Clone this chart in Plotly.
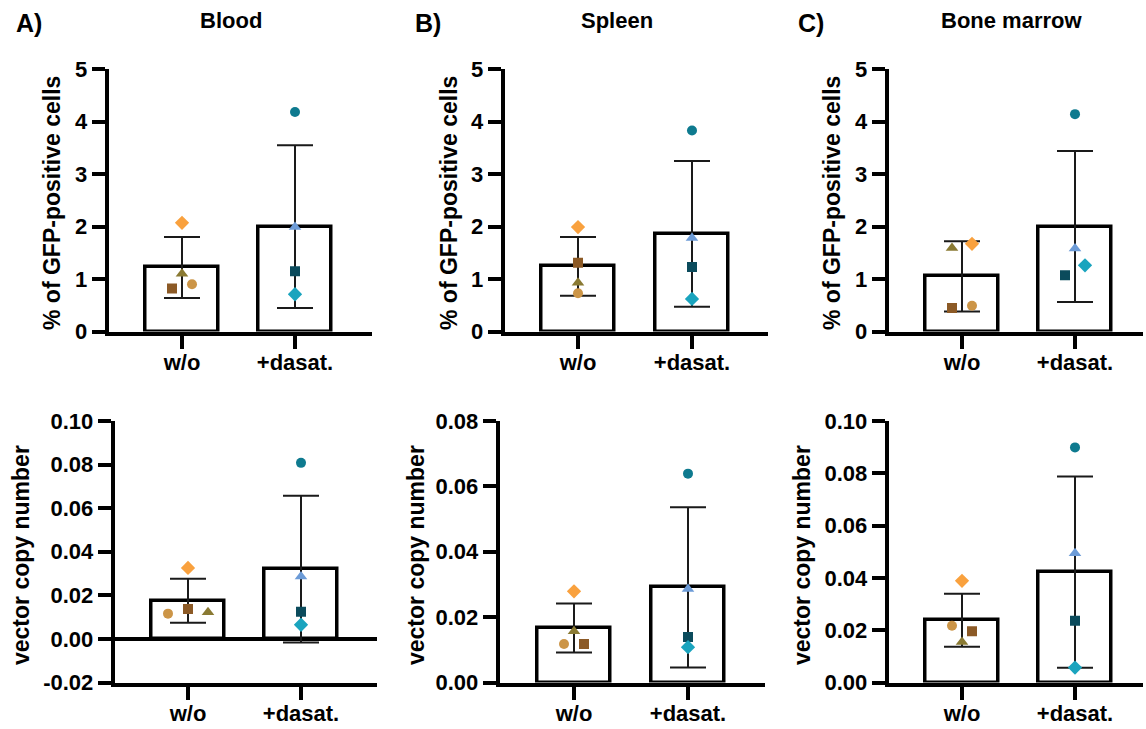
import plotly.graph_objects as go

W, H = 1146, 729

categories = ["w/o", "+dasat."]
panel_letters = ["A)", "B)", "C)"]
tissues = ["Blood", "Spleen", "Bone marrow"]
ylabel_top = "% of GFP-positive cells"
ylabel_bot = "vector copy number"

# point order within each group: circle, square, triangle, diamond
wo_symbols = ["circle", "square", "triangle-up", "diamond"]
wo_colors = ["#CC9547", "#8C5A26", "#8A7A33", "#F9A13E"]
da_symbols = ["circle", "square", "triangle-up", "diamond"]
da_colors = ["#0E7A8F", "#0B4B5C", "#6C9BD7", "#1AA4BE"]

# ---- GFP-positive cells (%) ----
gfp_blood_wo = [0.90, 0.82, 1.10, 2.07]
gfp_blood_da = [4.18, 1.15, 1.99, 0.71]
gfp_spleen_wo = [0.73, 1.31, 0.93, 1.99]
gfp_spleen_da = [3.83, 1.23, 1.78, 0.62]
gfp_bm_wo = [0.49, 0.45, 1.59, 1.67]
gfp_bm_da = [4.14, 1.07, 1.58, 1.26]

gfp_mean = [[1.22, 2.00], [1.24, 1.86], [1.05, 2.00]]
gfp_sd = [[0.58, 1.55], [0.56, 1.39], [0.67, 1.44]]

# ---- vector copy number ----
vcn_blood_wo = [0.0116, 0.0137, 0.0122, 0.0326]
vcn_blood_da = [0.0808, 0.0125, 0.0286, 0.0065]
vcn_spleen_wo = [0.0118, 0.0118, 0.0157, 0.0279]
vcn_spleen_da = [0.0639, 0.0139, 0.0286, 0.0108]
vcn_bm_wo = [0.0217, 0.0196, 0.0155, 0.0389]
vcn_bm_da = [0.0899, 0.0236, 0.0494, 0.0057]

vcn_mean = [[0.0175, 0.0320], [0.0167, 0.0291], [0.0238, 0.0422]]
vcn_sd = [[0.0101, 0.0337], [0.0075, 0.0245], [0.0101, 0.0366]]

# y tick labels
top_ticks = [0, 1, 2, 3, 4, 5]
bot_ticks = [
    [-0.02, 0.0, 0.02, 0.04, 0.06, 0.08, 0.10],
    [0.0, 0.02, 0.04, 0.06, 0.08],
    [0.0, 0.02, 0.04, 0.06, 0.08, 0.10],
]
bot_ticktext = [
    ["-0.02", "0.00", "0.02", "0.04", "0.06", "0.08", "0.10"],
    ["0.00", "0.02", "0.04", "0.06", "0.08"],
    ["0.00", "0.02", "0.04", "0.06", "0.08", "0.10"],
]
bot_ranges = [[-0.02, 0.10], [0.0, 0.08], [0.0, 0.10]]

# point horizontal jitter (pixels) per point, same order as values
jit_top_wo = [[10, -10, 0, 0], [0, 0, 0, 0], [10, -10, -10, 10]]
jit_top_da = [[0, 0, 0, 0], [0, 0, 0, 0], [0, -10, 0, 10]]
jit_bot_wo = [[-20, 0, 20, 0], [-10, 10, 0, 0], [-10, 10, 0, 0]]
jit_bot_da = [[0, 0, 0, 0], [0, 0, 0, 0], [0, 0, 0, 0]]

top_pts = [(gfp_blood_wo, gfp_blood_da), (gfp_spleen_wo, gfp_spleen_da), (gfp_bm_wo, gfp_bm_da)]
bot_pts = [(vcn_blood_wo, vcn_blood_da), (vcn_spleen_wo, vcn_spleen_da), (vcn_bm_wo, vcn_bm_da)]

# layout geometry in pixels: (y-axis x, cat0 x, cat1 x, axis end x)
geo_top = [(107, 182, 295, 372), (503, 578, 692, 768), (887, 962, 1075, 1143)]
geo_bot = [(113, 188, 301, 377), (498, 574, 688, 765), (887, 962, 1075, 1143)]
row_y = [(69, 333), (421, 684)]

FONT = "Liberation Sans, Arial, sans-serif"
BAR_W = 73
MSIZE = [10, 10, 11, 11]

fig = go.Figure()
layout = {}
idx = 0
for row in range(2):
    for col in range(3):
        idx += 1
        xa = "x" if idx == 1 else f"x{idx}"
        ya = "y" if idx == 1 else f"y{idx}"
        left, c0, c1, end = (geo_top if row == 0 else geo_bot)[col]
        unit = c1 - c0
        lw = 1.5
        x0 = (left + lw - c0) / unit
        x1 = (end - c0) / unit
        ytop, ybot = row_y[row]
        if row == 0:
            means, sds = gfp_mean[col], gfp_sd[col]
            wo, da = top_pts[col]
            jw, jd = jit_top_wo[col], jit_top_da[col]
            yr = [0, 5]
            tv, tt = top_ticks, [str(t) for t in top_ticks]
        else:
            means, sds = vcn_mean[col], vcn_sd[col]
            wo, da = bot_pts[col]
            jw, jd = jit_bot_wo[col], jit_bot_da[col]
            yr = bot_ranges[col]
            tv, tt = bot_ticks[col], bot_ticktext[col]

        fig.add_trace(go.Bar(
            x=[0, 1], y=means, width=BAR_W / unit,
            marker=dict(color="white", line=dict(color="black", width=3.5)),
            error_y=dict(type="data", array=sds, symmetric=True, color="#1a1a1a",
                         thickness=2, width=18),
            xaxis=xa, yaxis=ya, showlegend=False, hoverinfo="skip",
        ))
        fig.add_trace(go.Scatter(
            x=[0 + j / unit for j in jw], y=wo, mode="markers", opacity=1,
            marker=dict(symbol=wo_symbols, color=wo_colors, opacity=1,
                        size=MSIZE, line=dict(width=0)),
            xaxis=xa, yaxis=ya, showlegend=False,
        ))
        fig.add_trace(go.Scatter(
            x=[1 + j / unit for j in jd], y=da, mode="markers", opacity=1,
            marker=dict(symbol=da_symbols, color=da_colors, opacity=1,
                        size=MSIZE, line=dict(width=0)),
            xaxis=xa, yaxis=ya, showlegend=False,
        ))

        layout[xa.replace("x", "xaxis")] = dict(
            domain=[(left + lw) / W, min(end, W) / W], range=[x0, x1],
            anchor=ya, tickvals=[0, 1], ticktext=categories, automargin=False,
            showline=True, linecolor="black", linewidth=3.5,
            ticks="outside", ticklen=14, tickwidth=3.5, tickcolor="black",
            ticklabelstandoff=-6,
            tickfont=dict(family=FONT, size=22, color="black", weight="bold"),
            showgrid=False, zeroline=False, fixedrange=True,
        )
        layout[ya.replace("y", "yaxis")] = dict(
            domain=[1 - (ybot - lw) / H, 1 - ytop / H], range=yr,
            anchor=xa, tickvals=tv, ticktext=tt, automargin=False,
            showline=True, linecolor="black", linewidth=3.5,
            ticks="outside", ticklen=13, tickwidth=3.5, tickcolor="black",
            tickfont=dict(family=FONT, size=22, color="black", weight="bold"),
            showgrid=False, zeroline=(yr[0] < 0), zerolinecolor="black",
            zerolinewidth=3.5, fixedrange=True,
        )

annotations = []
letter_x = [29, 428, 811]
title_x = [231, 617, 1011]
for i in range(3):
    annotations.append(dict(text=panel_letters[i], x=letter_x[i] / W, y=1 - 23 / H,
                            xref="paper", yref="paper", showarrow=False,
                            xanchor="center", yanchor="middle",
                            font=dict(family=FONT, size=25, color="black", weight="bold")))
    annotations.append(dict(text=tissues[i], x=title_x[i] / W, y=1 - 21 / H,
                            xref="paper", yref="paper", showarrow=False,
                            xanchor="center", yanchor="middle",
                            font=dict(family=FONT, size=22, color="black", weight="bold")))

ytitle_top_x = [52, 449, 832]
ytitle_bot_x = [21, 416, 802]
for i in range(3):
    annotations.append(dict(text=ylabel_top, x=ytitle_top_x[i] / W, y=1 - 203 / H,
                            xref="paper", yref="paper", showarrow=False, textangle=-90,
                            xanchor="center", yanchor="middle",
                            font=dict(family=FONT, size=23, color="black", weight="bold")))
    annotations.append(dict(text=ylabel_bot, x=ytitle_bot_x[i] / W, y=1 - 555 / H,
                            xref="paper", yref="paper", showarrow=False, textangle=-90,
                            xanchor="center", yanchor="middle",
                            font=dict(family=FONT, size=23, color="black", weight="bold")))

fig.update_layout(
    template="none",
    width=W, height=H, margin=dict(l=0, r=0, t=0, b=0, pad=0),
    paper_bgcolor="white", plot_bgcolor="white",
    annotations=annotations, bargap=0, **layout,
)

fig.write_html("out.html", config={"displayModeBar": False},
               post_script="document.body.style.margin='0';document.body.style.overflow='hidden';")
